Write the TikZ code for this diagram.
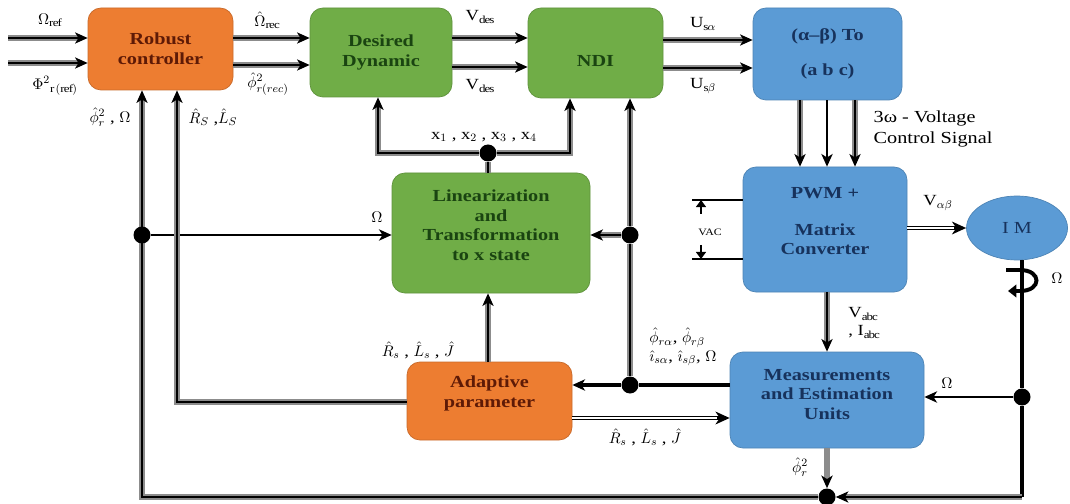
\documentclass[tikz,border=0pt]{standalone}
\usepackage{fontspec}
\setmainfont{Liberation Serif}[FakeStretch=1.2]
\usetikzlibrary{arrows.meta,shapes.geometric}
\pgfdeclarelayer{fg}
\pgfsetlayers{main,fg}
\newlength\pxl
\setlength\pxl{0.025cm}
\definecolor{orfill}{HTML}{ED7D31}
\definecolor{grfill}{HTML}{70AD47}
\definecolor{blfill}{HTML}{5B9BD5}
\definecolor{ortext}{HTML}{5E1A06}
\definecolor{grtext}{HTML}{1A4411}
\definecolor{bltext}{HTML}{17325C}
\definecolor{wire}{HTML}{8C8C8C}
\tikzset{
  box/.style={rounded corners=13\pxl, draw=#1!85!black, line width=0.5pt, fill=#1,
    font=\bfseries\fontsize{12}{14}\selectfont, align=center, inner sep=2pt},
  obox/.style={box=orfill, text=ortext},
  gbox/.style={box=grfill, text=grtext},
  bbox/.style={box=blfill, text=bltext},
  tip/.style={-{Stealth[length=9pt,width=8pt,inset=2.5pt]}},
  gl/.style={draw=black, line width=1.2pt, tip,
    preaction={draw=wire, line width=3.8pt, -, shorten >=6pt}},
  gln/.style={draw=black, line width=1.2pt, preaction={draw=wire, line width=3.8pt}},
  bl/.style={draw=black, line width=1.8pt, tip},
  bln/.style={draw=black, line width=1.8pt},
  wl/.style={draw=black, line width=3.4pt, -{Stealth[length=10pt,width=9pt,inset=3pt]},
    postaction={draw=white, line width=1.3pt, -, shorten >=9pt}},
  gonly/.style={draw=wire, line width=3.6pt, -{Stealth[length=9pt,width=8pt,inset=2.5pt,color=black]}},
  dot/.style={circle, fill=black, inner sep=0pt, minimum size=17\pxl},
  lab/.style={font=\fontsize{11}{13}\selectfont, inner sep=1pt},
}
\begin{document}
\begin{tikzpicture}[x=0.025cm, y=-0.025cm]
\useasboundingbox (0,0) rectangle (1070,504);
\fill[white] (0,0) rectangle (1070,504);

% boxes
\node[obox, minimum width=145\pxl, minimum height=82\pxl] (rc) at (160.5,49) {Robust\\controller};
\node[gbox, minimum width=142\pxl, minimum height=89\pxl] (dd) at (381,52.5) {Desired\\Dynamic};
\node[gbox, minimum width=135\pxl, minimum height=90\pxl] (ndi) at (595.5,53) {\rule{0pt}{19pt}NDI};
\node[bbox, minimum width=149\pxl, minimum height=92\pxl] (ab) at (827.5,54) {(α–β) To\\[11pt](a b c)};
\node[bbox, minimum width=164\pxl, minimum height=125\pxl] (pwm) at (825,229.5) {PWM +\\[12pt]Matrix\\Converter\rule[-12pt]{0pt}{12pt}};
\node[ellipse, fill=blfill, draw=blfill!85!black, line width=0.5pt, minimum width=101\pxl, minimum height=64\pxl,
  text=bltext, font=\fontsize{12}{14}\selectfont] (im) at (1017,228) {I M};
\node[gbox, minimum width=198\pxl, minimum height=120\pxl] (lin) at (491,233) {Linearization\\and\\Transformation\\to x state\rule[-11pt]{0pt}{11pt}};
\node[obox, minimum width=165\pxl, minimum height=78\pxl] (ap) at (489.5,401) {Adaptive\\parameter\rule[-13pt]{0pt}{13pt}};
\node[bbox, minimum width=194\pxl, minimum height=96\pxl] (me) at (827,400) {Measurements\\and Estimation\\Units\rule[-8pt]{0pt}{8pt}};

% junctions
\begin{pgfonlayer}{fg}
\node[dot] (jx) at (488,153) {};
\node[dot] (jl) at (142,235) {};
\node[dot] (jr) at (630,235) {};
\node[dot] (jm) at (630,385) {};
\node[dot] (jb) at (827,497) {};
\node[dot] (js) at (1022,397) {};
\end{pgfonlayer}

% helper coordinates
\coordinate (in1) at (8,38);
\coordinate (in2) at (8,63);
\coordinate (ya) at (0,38);
\coordinate (yb) at (0,65);
\coordinate (yc) at (0,67);
\coordinate (yu1) at (0,40);
\coordinate (yu2) at (0,68);
\coordinate (xa1) at (800,0);
\coordinate (xa2) at (827,0);
\coordinate (xa3) at (855,0);
\coordinate (cxl) at (378,153);
\coordinate (cxr) at (570,153);
\coordinate (ci) at (177,402);
\coordinate (y418) at (0,418);
\coordinate (sb) at (1022,497);
\coordinate (va1) at (692,200);
\coordinate (va2) at (692,259);
\coordinate (vt1) at (701,214);
\coordinate (vt2) at (701,245);

% top chain
\draw[gl] (in1) -- (in1 -| rc.west);
\draw[gl] (in2) -- (in2 -| rc.west);
\draw[gl] (rc.east |- ya) -- (dd.west |- ya);
\draw[gl] (rc.east |- yb) -- (dd.west |- yb);
\draw[gl] (dd.east |- ya) -- (ndi.west |- ya);
\draw[gl] (dd.east |- yc) -- (ndi.west |- yc);
\draw[gl] (ndi.east |- yu1) -- (ab.west |- yu1);
\draw[gl] (ndi.east |- yu2) -- (ab.west |- yu2);

% to PWM
\draw[gl] (ab.south -| xa1) -- (pwm.north -| xa1);
\draw[bl, line width=1.5pt] (ab.south -| xa2) -- (pwm.north -| xa2);
\draw[gl] (ab.south -| xa3) -- (pwm.north -| xa3);

% PWM -> IM
\draw[wl] (pwm.east |- im) -- (im.west);

% VAC
\draw[line width=1.1pt] (va1) -- (va1 -| pwm.west);
\draw[line width=1.1pt] (va2) -- (va2 -| pwm.west);
\draw[line width=1.6pt, -{Triangle[length=5pt,width=7pt]}] (vt1) -- (vt1 |- va1);
\draw[line width=1.6pt, -{Triangle[length=5pt,width=7pt]}] (vt2) -- (vt2 |- va2);

% x states
\draw[gln] (lin.north -| jx) -- (jx);
\draw[gl] (jx) -- (cxl) -- (cxl |- dd.south);
\draw[gl] (jx) -- (cxr) -- (cxr |- ndi.south);

% outer feedback loop
\draw[gl] (jb) -- (jb -| jl) -- (jl |- rc.south);
\draw[bl, line width=1.5pt] (jl) -- (jl -| lin.west);

% inner feedback from adaptive
\draw[gl] (ap.west |- ci) -- (ci) -- (ci |- rc.south);
\draw[gl] (ap.north -| jx) -- (lin.south -| jx);
\draw[wl] (ap.east |- y418) -- (me.west |- y418);

% measurements -> adaptive, NDI, linearization
\draw[bln, line width=2.6pt] (me.west |- jm) -- (jm);
\draw[bl, line width=2.6pt] (jm) -- (jm -| ap.east);
\draw[gln] (jm) -- (jr);
\draw[gl] (jr) -- (jr |- ndi.south);
\draw[gl] (jr) -- (jr -| lin.east);

% PWM -> measurements
\draw[gl] (pwm.south -| me.north) -- (me.north);
\draw[gonly] (me.south) -- (jb);

% shaft
\draw[line width=2.6pt] (im.south -| js) -- (js) -- (sb);
\draw[gl] (sb) -- (jb);
\draw[bl, line width=1.6pt] (js) -- (js -| me.east);
\draw[line width=2.8pt, -{Triangle[length=6pt,width=9pt]}]
  (1006,270) -- (1020,270) .. controls (1042,270) and (1042,291) .. (1020,291) -- (1008,291);

% labels
\node[lab] (lomr) at (50,20) {$\Omega_{\mathrm{ref}}$};
\node[lab] (lphr) at (55,86) {$\Phi^{2}{}_{\mathrm{r\,(ref)}}$};
\node[lab] (lomc) at (267,20) {$\hat{\Omega}_{\mathrm{rec}}$};
\node[lab] (lphc) at (268,84) {$\hat{\phi}^{2}_{r(rec)}$};
\node[lab] (lv1) at (480,17) {V$_{\mathrm{des}}$};
\node[lab] (lv2) at (480,86) {V$_{\mathrm{des}}$};
\node[lab] (lu1) at (703,24) {U$_{\mathrm{s}\alpha}$};
\node[lab] (lu2) at (703,86) {U$_{\mathrm{s}\beta}$};
\node[lab, anchor=west, align=left, font=\fontsize{12}{15}\selectfont] (l3) at (872,129) {3ω - Voltage\\Control Signal};
\node[lab] (lfb1) at (110,117) {$\hat{\phi}^{2}_{r}$ , $\Omega$};
\node[lab] (lfb2) at (213,117) {$\hat{R}_S$ ,$\hat{L}_S$};
\node[lab] (lx) at (484,137) {x$_1$ , x$_2$ , x$_3$ , x$_4$};
\node[lab] (lom1) at (377,217) {$\Omega$};
\node[lab] (lrl) at (418,350) {$\hat{R}_s$ , $\hat{L}_s$ , $\hat{J}$};
\node[lab, align=left] (lest) at (683,347) {$\hat{\phi}_{r\alpha}$, $\hat{\phi}_{r\beta}$\\$\hat{\imath}_{s\alpha}$, $\hat{\imath}_{s\beta}$, $\Omega$};
\node[lab, align=left] (lvabc) at (864,323) {V$_{\mathrm{abc}}$\\, I$_{\mathrm{abc}}$};
\node[lab] (lvab) at (938,203) {V$_{\alpha\beta}$};
\node[lab, font=\fontsize{7}{8}\selectfont] (lvac) at (710,232) {VAC};
\node[lab] (lom2) at (1057,278) {$\Omega$};
\node[lab] (lom3) at (947,383) {$\Omega$};
\node[lab] (lrm) at (645,437) {$\hat{R}_s$ , $\hat{L}_s$ , $\hat{J}$};
\node[lab] (lphm) at (800,467) {$\hat{\phi}^{2}_{r}$};
\end{tikzpicture}
\end{document}
